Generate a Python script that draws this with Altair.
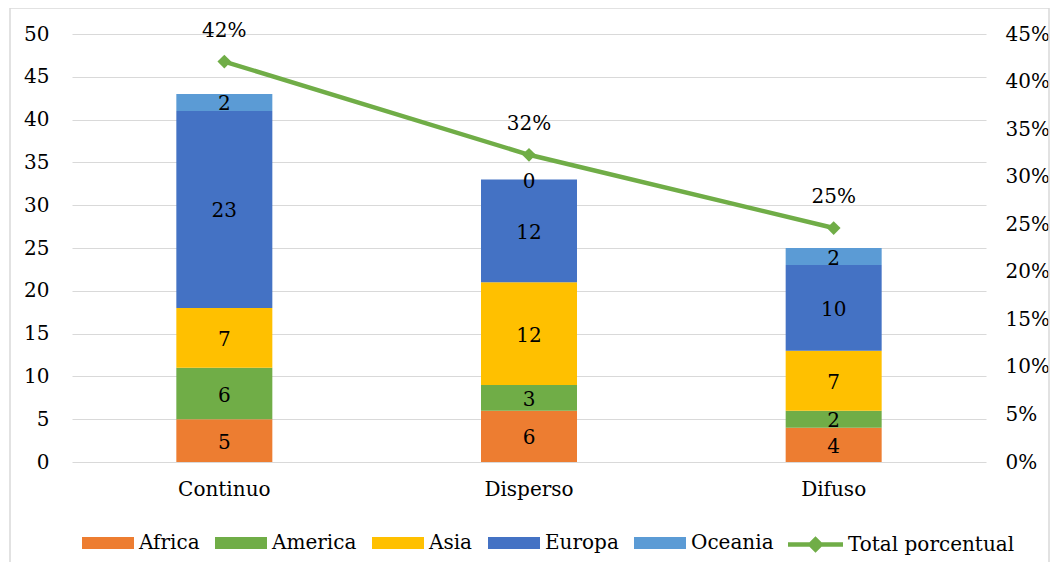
import altair as alt
import pandas as pd

categories = ["Continuo", "Disperso", "Difuso"]
regions = ["Africa", "America", "Asia", "Europa", "Oceania"]
africa = [5, 6, 4]
america = [6, 3, 2]
asia = [7, 12, 7]
europa = [23, 12, 10]
oceania = [2, 0, 2]
total_pct = [0.421, 0.323, 0.246]
line_name = "Total porcentual"

region_colors = ["#ED7D31", "#70AD47", "#FFC000", "#4472C4", "#5B9BD5"]
line_color = "#70AD47"
FONT = "DejaVu Serif"
FS = 20

rows = []
for i, c in enumerate(categories):
    for k, (r, vals) in enumerate(zip(regions, [africa, america, asia, europa, oceania])):
        rows.append({"cat": c, "region": r, "value": vals[i], "ord": k})
df = pd.DataFrame(rows)
df_line = pd.DataFrame({"cat": categories, "pct": total_pct, "series": [line_name] * 3})

rect_path = "M-1,-0.23H1V0.23H-1Z"
line_path = "M-1,-0.08H1V0.08H-1Z M0,-0.3L0.3,0L0,0.3L-0.3,0Z"

x_enc = alt.X("cat:N", sort=categories,
              scale=alt.Scale(paddingInner=0, paddingOuter=0),
              axis=alt.Axis(title=None, labelAngle=0, domain=False, ticks=False,
                            labelPadding=17))
y_axis = alt.Axis(title=None, values=list(range(0, 51, 5)), grid=True,
                  gridColor="#D9D9D9", gridWidth=1, domain=False, ticks=False,
                  labelPadding=23)
y_scale = alt.Scale(domain=[0, 50], nice=False)

bar_legend = alt.Legend(
    orient="none", legendX=10, legendY=483, direction="horizontal", columns=5,
    title=None, labelFont=FONT, labelFontSize=FS, labelColor="black",
    symbolType=rect_path, symbolSize=2704, labelOffset=5, columnPadding=15,
    symbolOpacity=1, symbolStrokeWidth=0,
)
line_legend = alt.Legend(
    orient="none", legendX=716, legendY=483, direction="horizontal",
    title=None, labelFont=FONT, labelFontSize=FS, labelColor="black",
    symbolType=line_path, symbolSize=3025, labelOffset=5, labelLimit=300,
    symbolFillColor=line_color, symbolStrokeWidth=0, symbolOpacity=1,
)

bars = alt.Chart(df).mark_bar(size=96).encode(
    x=x_enc,
    y=alt.Y("value:Q", stack="zero", scale=y_scale, axis=y_axis),
    color=alt.Color("region:N", scale=alt.Scale(domain=regions, range=region_colors),
                    legend=bar_legend),
    order=alt.Order("ord:Q", sort="ascending"),
)

bar_text = alt.Chart(df).transform_stack(
    stack="value", groupby=["cat"], sort=[alt.SortField("ord", "ascending")],
    as_=["y0", "y1"]
).transform_calculate(mid="(datum.y0 + datum.y1) / 2").mark_text(
    font=FONT, fontSize=FS, color="black", baseline="middle", dy=2
).encode(
    x=x_enc,
    y=alt.Y("mid:Q", scale=y_scale, axis=y_axis),
    text=alt.Text("value:Q"),
)

pct_axis = alt.Axis(orient="right", title=None, format=".0%",
                    values=[round(i * 0.05, 2) for i in range(10)], grid=False,
                    domain=False, ticks=False, labelPadding=19)
pct_scale = alt.Scale(domain=[0, 0.45], nice=False)

line = alt.Chart(df_line).mark_line(color=line_color, strokeWidth=4.5).encode(
    x=x_enc, y=alt.Y("pct:Q", scale=pct_scale, axis=pct_axis))
points = alt.Chart(df_line).mark_point(shape="diamond", filled=True, size=190,
                                        color=line_color).encode(
    x=x_enc, y=alt.Y("pct:Q", scale=pct_scale, axis=pct_axis),
    opacity=alt.Opacity("series:N", scale=alt.Scale(domain=[line_name], range=[1]),
                        legend=line_legend))
pct_text = alt.Chart(df_line).mark_text(font=FONT, fontSize=FS, color="black",
                                        baseline="middle", dy=-31).encode(
    x=x_enc, y=alt.Y("pct:Q", scale=pct_scale, axis=pct_axis),
    text=alt.Text("pct:Q", format=".0%"))

border = alt.Chart(pd.DataFrame({"a": [0]})).mark_rect(
    fill="transparent", stroke="#D9D9D9", strokeWidth=1.5
).encode(x=alt.value(-62), x2=alt.value(977), y=alt.value(-26), y2=alt.value(530))

chart = alt.layer(
    alt.layer(bars, bar_text),
    alt.layer(line, points, pct_text),
    border,
).resolve_scale(y="independent").properties(
    width=914, height=428,
    autosize=alt.AutoSizeParams(type="none"),
    padding={"left": 64, "top": 26, "right": 64, "bottom": 100},
).configure_view(stroke=None).configure_axis(
    labelFont=FONT, labelFontSize=FS, labelColor="black"
)

chart.save("out.html", embed_options={"renderer": "svg", "actions": False})
